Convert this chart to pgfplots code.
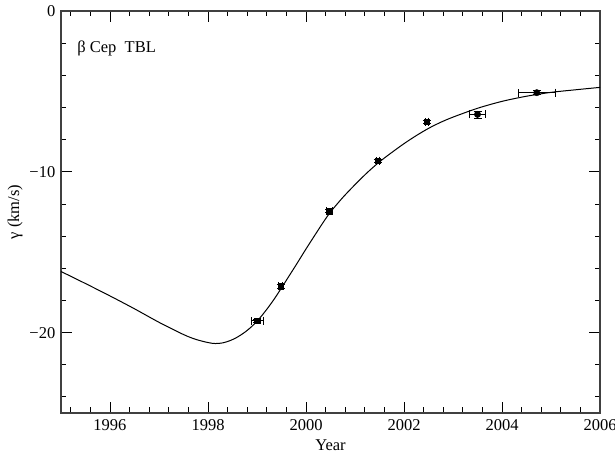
\documentclass[border=0pt]{standalone}
\usepackage{fontspec}
\setmainfont{Liberation Serif}
\usepackage{pgfplots}
\pgfplotsset{compat=1.18}
\begin{document}
\fontsize{16.5}{19}\selectfont
\begin{tikzpicture}
\begin{axis}[
  scale only axis, width=539pt, height=402pt,
  xmin=1995, xmax=2006, ymin=-25, ymax=0,
  xtick={1996,1998,2000,2002,2004,2006},
  xticklabels={1996,1998,2000,2002,2004,2006},
  ytick={-20,-10,0}, yticklabels={−20,−10,0},
  minor xtick={1995.2,1995.6,1996.4,1996.8,1997.2,1997.6,1998.4,1998.8,1999.2,1999.6,2000.4,2000.8,2001.2,2001.6,2002.4,2002.8,2003.2,2003.6,2004.4,2004.8,2005.2,2005.6},
  minor ytick={-24,-22,-18,-16,-14,-12,-8,-6,-4,-2},
  tick align=inside,
  major tick length=11pt, minor tick length=5.5pt,
  every tick/.style={black, line width=0.9pt},
  axis line style={line width=1.2pt, black!75},
  tick label style={font=\fontsize{16.5}{19}\selectfont},
  xlabel={Year}, ylabel={γ (km/s)},
  label style={font=\fontsize{16.5}{19}\selectfont},
  xlabel style={at={(axis description cs:0.5,-0.08)}, anchor=center},
  ylabel style={at={(axis description cs:-0.085,0.5)}, anchor=center},
  xticklabel style={yshift=-1pt},
  clip=false,
]
\addplot[black, line width=1pt, smooth, tension=0.5] coordinates {
(1995.0,-16.2) (1995.5,-16.95) (1996.0,-17.72) (1996.5,-18.52) (1997.0,-19.36)
(1997.5,-20.12) (1997.75,-20.42) (1998.0,-20.62) (1998.15,-20.68) (1998.3,-20.64)
(1998.45,-20.5) (1998.6,-20.28) (1998.75,-19.98) (1998.9,-19.6) (1999.05,-19.12)
(1999.2,-18.55) (1999.35,-17.92) (1999.5,-17.22) (1999.65,-16.5) (1999.8,-15.78)
(2000.0,-14.8) (2000.2,-13.85) (2000.35,-13.15) (2000.5,-12.5) (2000.75,-11.6)
(2001.0,-10.8) (2001.25,-10.05) (2001.5,-9.38) (2001.75,-8.8) (2002.0,-8.25)
(2002.25,-7.75) (2002.5,-7.3) (2002.75,-6.92) (2003.0,-6.6) (2003.5,-6.05)
(2004.0,-5.62) (2004.5,-5.3) (2005.0,-5.06) (2005.5,-4.9) (2006.0,-4.75)
};
\addplot[black, only marks, mark=square*, mark size=2.8pt,
  error bars/.cd, x dir=both, x explicit, y dir=both, y explicit,
  error mark options={rotate=90, mark size=4pt, line width=0.7pt},
  error bar style={line width=0.7pt}]
 coordinates {
 (1999.0,-19.25) +- (0.125,0.1)
 (1999.48,-17.12) +- (0.04,0.1)
 (2000.47,-12.45) +- (0.06,0.1)
 (2001.46,-9.3) +- (0.03,0.1)
 (2002.46,-6.88) +- (0.03,0.1)
};
\addplot[black, only marks, mark=*, mark size=3.2pt,
  error bars/.cd, x dir=both, x explicit, y dir=both, y explicit,
  error mark options={rotate=90, mark size=4pt, line width=0.7pt},
  error bar style={line width=0.7pt}]
 coordinates {
 (2003.5,-6.43) +- (0.16,0.22)
 (2004.71,-5.08) +- (0.37,0.12)
};
\node[anchor=base west, inner sep=0pt, font=\fontsize{16.5}{19}\selectfont] at (axis cs:1995.33,-2.55) {β Cep\enspace TBL};
\end{axis}
\pgfresetboundingbox
\path[use as bounding box] ([shift={(-61pt,-44pt)}]current axis.south west) rectangle ([shift={(15pt,11pt)}]current axis.north east);
\end{tikzpicture}
\end{document}
